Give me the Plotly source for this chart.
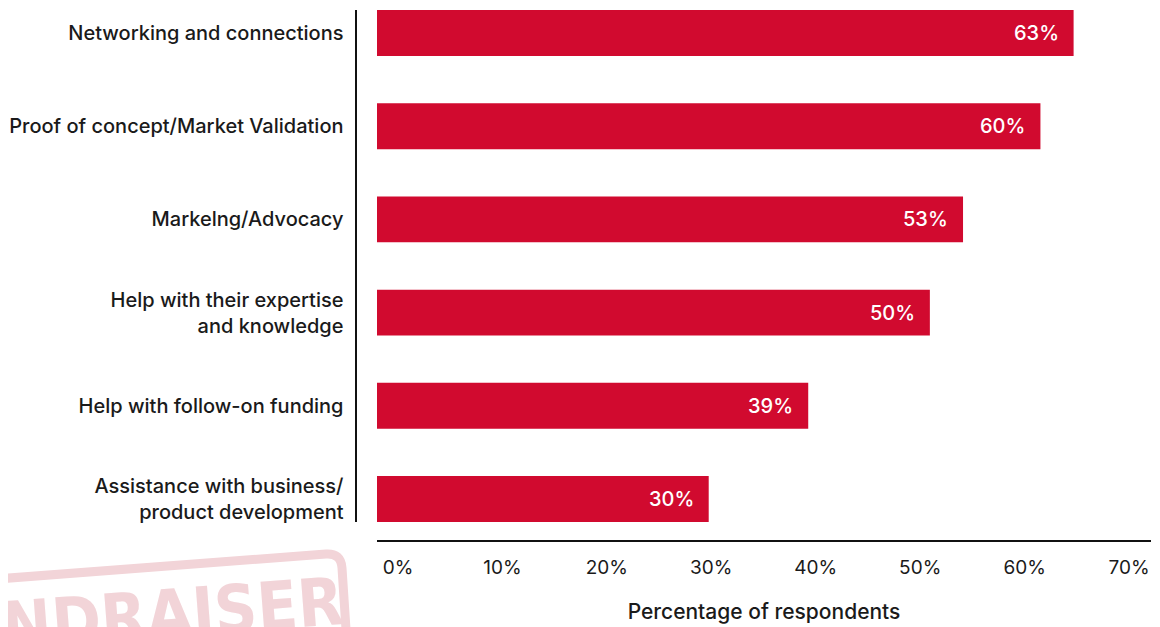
import plotly.graph_objects as go

# data
categories = [
    "Networking and connections",
    "Proof of concept/Market Validation",
    "Markelng/Advocacy",
    "Help with their expertise<br>and knowledge",
    "Help with follow-on funding",
    "Assistance with business/<br>product development",
]
values = [63, 60, 53, 50, 39, 30]
x_ticks = [0, 10, 20, 30, 40, 50, 60, 70]
x_ticktext = [f"{t}%" for t in x_ticks]

bar_red = '#D10A2F'
stamp_pink = '#F2D4D8'
W, H = 1160, 627
OFF = 8  # page body margin pushes the figure down/right

def px(x):
    return (x - OFF) / W

def py(y):
    return 1 - (y - OFF) / H

fig = go.Figure()
fig.add_trace(
    go.Bar(
        x=values,
        y=categories,
        orientation='h',
        marker_color=bar_red,
        marker_line_width=0,
        hoverinfo='skip',
    )
)
# invisible trace so the bottom (label) axis gets drawn
fig.add_trace(
    go.Scatter(
        x=[x_ticks[0], x_ticks[-1]],
        y=[categories[0], categories[0]],
        xaxis='x2', mode='markers',
        marker=dict(opacity=0),
        hoverinfo='skip',
    )
)

# value labels at the inner end of each bar
for v, c in zip(values, categories):
    fig.add_annotation(
        x=v, y=c, xref='x', yref='y',
        text=f"{v}%", showarrow=False,
        xanchor='right', xshift=-13,
        font=dict(family='Inter', size=20, color='white', weight=500),
    )

# faded "FUNDRAISER" stamp in the bottom left corner (cut off by the page edge)
fig.add_annotation(
    x=px(128), y=py(617), xref='paper', yref='paper',
    xanchor='center', yanchor='middle',
    text="FUNDRAISER", showarrow=False, textangle=-4.3,
    font=dict(family='DejaVu Sans Condensed', size=66, color=stamp_pink, weight='bold'),
)
path = (f"M {px(-30)},{py(581)} L {px(326)},{py(554)} "
        f"Q {px(341)},{py(553)} {px(342)},{py(568)} "
        f"L {px(348)},{py(660)}")
fig.add_shape(type='path', xref='paper', yref='paper', path=path,
              line=dict(color=stamp_pink, width=9), layer='below')

fig.update_layout(
    template='none',
    width=W, height=H,
    margin=dict(l=0, r=0, t=0, b=0),
    paper_bgcolor='white', plot_bgcolor='rgba(0,0,0,0)',
    showlegend=False,
    bargap=0.507,
    font=dict(family='Inter', color='#1a1a1a'),
    xaxis=dict(
        domain=[px(377), px(1151)],
        range=[0, 70],
        visible=False,
    ),
    xaxis2=dict(
        overlaying='x',
        anchor='free',
        position=py(541),
        range=[-2.01, 72.1],
        tickvals=x_ticks,
        ticktext=x_ticktext,
        showline=True, linecolor='#111111', linewidth=2,
        ticks='', showgrid=False, zeroline=False,
        tickfont=dict(size=19, color='#1a1a1a'),
        ticklabelstandoff=9,
        title=dict(text='Percentage of respondents', standoff=26,
                   font=dict(size=21, color='#1a1a1a', weight=500)),
    ),
    yaxis=dict(
        domain=[py(522), py(10)],
        anchor='free',
        position=px(355.5),
        type='category',
        range=[5.2465, -0.2465],
        showline=True, linecolor='#111111', linewidth=2,
        ticks='', showgrid=False, zeroline=False,
        tickfont=dict(size=20, color='#1a1a1a', weight=500),
        ticklabelstandoff=7,
    ),
)

fig.write_html("out.html")
